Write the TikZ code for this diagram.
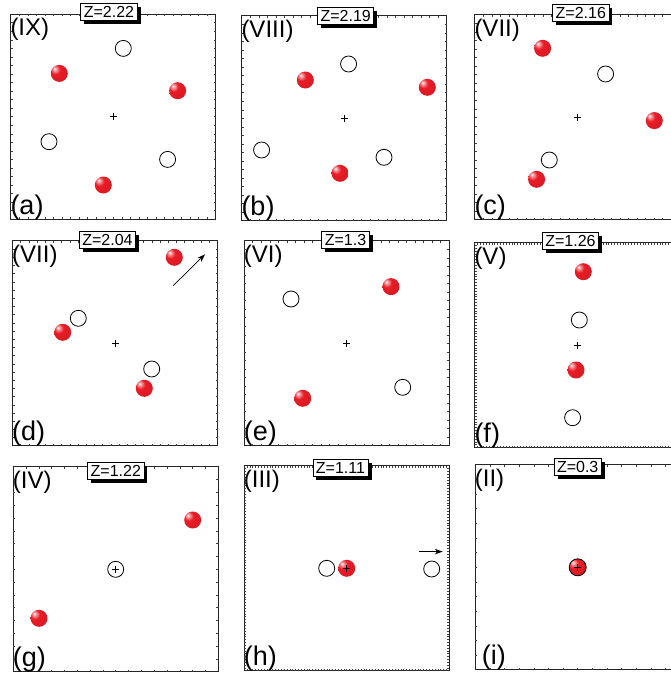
\documentclass[tikz,border=0pt]{standalone}
\usepackage{fontspec}
\setmainfont{Liberation Sans}
\usetikzlibrary{arrows.meta,shadows}
\definecolor{rb}{RGB}{232,28,38}
\pgfdeclareradialshading{redball}{\pgfpoint{-14bp}{14bp}}{%
  color(0bp)=(white); color(5bp)=(rb!45!white); color(14bp)=(rb);
  color(45bp)=(rb!90!black); color(62bp)=(rb!72!black); color(80bp)=(rb!72!black)}
\tikzset{
  frame/.style={draw=black!85,line width=0.9pt},
  tick/.style={black!75,line width=0.5pt},
  crossm/.style={black,line width=0.6pt},
  opn/.style={circle,draw=black,line width=0.8pt,fill=white,minimum size=16pt,inner sep=0pt},
  ball/.style={circle,shading=redball,minimum size=17pt,inner sep=0pt},
  toplab/.style={anchor=base west,inner sep=0pt,font=\fontsize{24}{24}\selectfont},
  botlab/.style={anchor=base west,inner sep=0pt,font=\fontsize{27}{27}\selectfont},
  zbox/.style={draw=black,line width=0.8pt,fill=white,inner xsep=3pt,inner ysep=2.8pt,
    font=\fontsize{16}{16}\selectfont,
    drop shadow={shadow xshift=3.5pt,shadow yshift=-3.5pt,opacity=1,fill=black}},
  mvarrow/.style={-{Stealth[length=8pt,width=5.5pt]},line width=0.7pt,black}
}
\newcommand\mypanel[7]{% #1 cx, #2 cy, #3 ticks, #4 top label, #5 bottom label, #6 name, #7 particles
  \begin{scope}[shift={(#1,#2)}]
    \draw[frame] (-102.5,-102.5) rectangle (102.5,102.5);
    \pgfmathtruncatemacro\nmax{#3-1}
    \foreach \k in {1,...,\nmax}{
      \pgfmathsetmacro\tpos{-102.5+\k*205/#3}
      \draw[tick] (\tpos,-102.5) -- ++(0,2);
      \draw[tick] (\tpos,102.5) -- ++(0,-2);
      \draw[tick] (-102.5,\tpos) -- ++(2,0);
      \draw[tick] (102.5,\tpos) -- ++(-2,0);
    }
    \node[toplab] (#6top) at (-103,-81) {#4};
    \node[botlab] (#6bot) at (-103,97.5) {#5};
    #7
    \coordinate (#6c) at (0,0);
    \draw[crossm] (-3.5,0) -- (3.5,0) (0,-3.5) -- (0,3.5);
  \end{scope}}
\begin{document}
\begin{tikzpicture}[x=1pt,y=-1pt]
\useasboundingbox (0,0) rectangle (671,675);
\clip (0,0) rectangle (671,675);
\fill[white] (0,0) rectangle (671,675);
% (a)
\mypanel{113.3}{116.7}{24}{(IX)}{(a)}{pa}{%
  \node[opn] (a1) at (10,-68.3) {};
  \node[opn] (a2) at (-64.3,25) {};
  \node[opn] (a3) at (54.3,42.7) {};
  \node[ball] (a4) at (-54,-43.3) {};
  \node[ball] (a5) at (64.3,-26) {};
  \node[ball] (a6) at (-10,68.3) {};}
% (b)
\mypanel{344.3}{118.3}{24}{(VIII)}{(b)}{pb}{%
  \node[opn] (b1) at (4.3,-54.3) {};
  \node[opn] (b2) at (-82.7,31.7) {};
  \node[opn] (b3) at (39.7,39) {};
  \node[ball] (b4) at (-39,-38.3) {};
  \node[ball] (b5) at (83,-31) {};
  \node[ball] (b6) at (-4.3,55) {};}
% (c)
\mypanel{577.3}{117.3}{24}{(VII)}{(c)}{pc}{%
  \node[opn] (c1) at (28.3,-43.3) {};
  \node[opn] (c2) at (-28,42.7) {};
  \node[ball] (c3) at (-34.7,-69) {};
  \node[ball] (c4) at (77,3.3) {};
  \node[ball] (c5) at (-40.7,62) {};}
% (d)
\mypanel{115}{343.3}{25}{(VII)}{(d)}{pd}{%
  \node[opn] (d1) at (-36.7,-25) {};
  \node[opn] (d2) at (36.7,25.7) {};
  \node[ball] (d3) at (59.3,-86) {};
  \node[ball] (d4) at (-52.3,-11) {};
  \node[ball] (d5) at (29.3,45) {};
  \coordinate (d6) at (58.3,-57.7);
  \coordinate (d7) at (90,-89);
  \draw[mvarrow] (d6) -- (d7);}
% (e)
\mypanel{346.7}{343.3}{24}{(VI)}{(e)}{pe}{%
  \node[opn] (e1) at (-55.7,-44.3) {};
  \node[opn] (e2) at (56,44) {};
  \node[ball] (e3) at (44.3,-56.7) {};
  \node[ball] (e4) at (-44,55) {};}
% (f)
\mypanel{577.3}{345}{72}{(V)}{(f)}{pf}{%
  \node[opn] (f1) at (2,-25) {};
  \node[opn] (f2) at (-4.7,72.7) {};
  \node[ball] (f3) at (6,-73.3) {};
  \node[ball] (f4) at (-1.3,25) {};}
% (g)
\mypanel{115.7}{569.3}{16}{(IV)}{(g)}{pg}{%
  \node[opn] (g1) at (0,0) {};
  \node[ball] (g2) at (77,-49.3) {};
  \node[ball] (g3) at (-76.7,49) {};}
% (h)
\mypanel{346.7}{568.3}{72}{(III)}{(h)}{ph}{%
  \node[opn] (h1) at (-20,0) {};
  \node[opn] (h2) at (85,0.7) {};
  \node[ball] (h3) at (0,0) {};
  \coordinate (h4) at (72.7,-16.7);
  \coordinate (h5) at (96,-16.7);
  \draw[mvarrow] (h4) -- (h5);}
% (i)
\mypanel{577.7}{567.3}{14}{(II)}{\hspace{7pt}(i)}{pi}{%
  \node[ball,draw=black,line width=0.8pt] (i1) at (0,0) {};}
% Z labels
\node[zbox] (za) at (109,12.2) {Z=2.22};
\node[zbox] (zb) at (345.7,16.2) {Z=2.19};
\node[zbox] (zc) at (580.8,13.3) {Z=2.16};
\node[zbox] (zd) at (107.5,240) {Z=2.04};
\node[zbox] (ze) at (345.5,240) {Z=1.3};
\node[zbox] (zf) at (570.5,240.8) {Z=1.26};
\node[zbox] (zg) at (115.8,471) {Z=1.22};
\node[zbox] (zh) at (340.5,468) {Z=1.11};
\node[zbox] (zi) at (577.7,467) {Z=0.3};
\end{tikzpicture}
\end{document}
